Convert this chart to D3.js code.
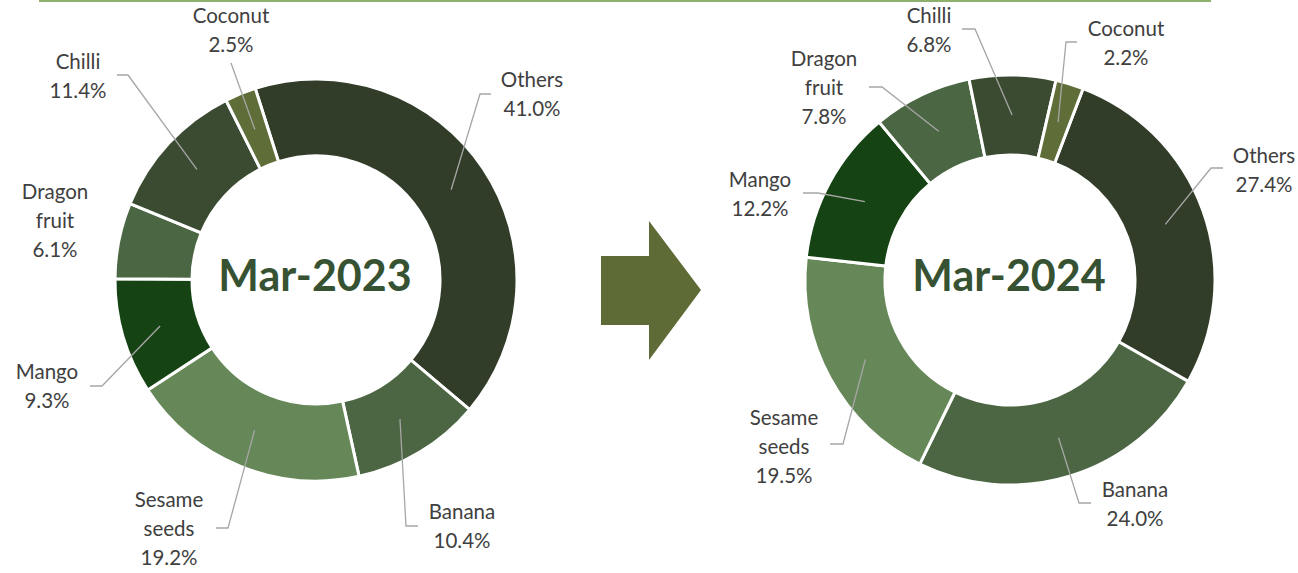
<!DOCTYPE html>
<html>
<head>
<meta charset="utf-8">
<script src="https://cdn.jsdelivr.net/npm/d3@7"></script>
<style>
    html, body { margin: 0; padding: 0; background: #fff; }
    svg { display: block; }
</style>
</head>
<body>
<div id="root"></div>
<script>
// Export share by crop, Mar-2023 vs Mar-2024 (%)
const categories = ['Others', 'Banana', 'Sesame seeds', 'Mango', 'Dragon fruit', 'Chilli', 'Coconut'];
const share2023 = [41.0, 10.4, 19.2, 9.3, 6.1, 11.4, 2.5];
const share2024 = [27.4, 24.0, 19.5, 12.2, 7.8, 6.8, 2.2];
const periods = ['Mar-2023', 'Mar-2024'];

const Width = 1298;
const Height = 573;
const LineHeight = 29;

const colors = {
    Others: '#323d29',
    Banana: '#4c6643',
    'Sesame seeds': '#668858',
    Mango: '#164313',
    'Dragon fruit': '#4b6642',
    Chilli: '#3b4b31',
    Coconut: '#5f6d38',
};

// label placement: text centre x, first baseline y, leader stub start x/y and stub length
const charts = [
    {
        title: periods[0],
        values: share2023,
        cx: 316, cy: 280, outer: 201, inner: 124, start: -17.6,
        labels: {
            Others: { x: 532, y: 87, sx: 491, sy: 94, len: -11 },
            Banana: { x: 462, y: 519, sx: 418, sy: 526, len: -12 },
            'Sesame seeds': { x: 169, y: 507, sx: 216, sy: 528, len: 12 },
            Mango: { x: 47, y: 379, sx: 90, sy: 386, len: 12 },
            'Dragon fruit': { x: 55, y: 199 },
            Chilli: { x: 78, y: 69, sx: 117, sy: 75, len: 11 },
            Coconut: { x: 231, y: 23, sx: 231, sy: 63, len: 0 },
        },
    },
    {
        title: periods[1],
        values: share2024,
        cx: 1010, cy: 280, outer: 205, inner: 125, start: 20.9,
        labels: {
            Others: { x: 1264, y: 163, sx: 1223, sy: 168, len: -12 },
            Banana: { x: 1135, y: 497, sx: 1091, sy: 503, len: -12 },
            'Sesame seeds': { x: 784, y: 425, sx: 830, sy: 444, len: 13 },
            Mango: { x: 760, y: 187, sx: 803, sy: 193, len: 15 },
            'Dragon fruit': { x: 824, y: 66, sx: 869, sy: 87, len: 13 },
            Chilli: { x: 929, y: 23, sx: 962, sy: 29, len: 13 },
            Coconut: { x: 1126, y: 36, sx: 1077, sy: 42, len: -11 },
        },
    },
];

const svg = d3.select('#root')
    .append('svg')
    .attr('width', Width)
    .attr('height', Height)
    .attr('viewBox', [0, 0, Width, Height]);

// thin green rule along the top
svg.append('line')
    .attr('x1', 39).attr('x2', 1211)
    .attr('y1', 1).attr('y2', 1)
    .attr('stroke', '#8db06b')
    .attr('stroke-width', 2);

function renderDonut(chart) {
    const rad = Math.PI / 180;
    const pie = d3.pie()
        .sort(null)
        .value(d => d.value)
        .startAngle(chart.start * rad)
        .endAngle(chart.start * rad + 2 * Math.PI);

    const arc = d3.arc()
        .innerRadius(chart.inner)
        .outerRadius(chart.outer);

    const arcs = pie(categories.map((name, i) => ({ name, value: chart.values[i] })));

    const g = svg.append('g')
        .attr('transform', `translate(${chart.cx}, ${chart.cy})`);

    g.append('g')
        .selectAll('path')
        .data(arcs)
        .join('path')
        .attr('d', arc)
        .attr('fill', d => colors[d.data.name])
        .attr('stroke', '#fff')
        .attr('stroke-width', 3)
        .attr('stroke-linejoin', 'miter');

    // leader lines, ending at the slice centroid
    const leaders = arcs.filter(d => chart.labels[d.data.name].sx !== undefined);
    svg.append('g')
        .attr('fill', 'none')
        .attr('stroke', '#a6a6a6')
        .attr('stroke-width', 1.3)
        .selectAll('polyline')
        .data(leaders)
        .join('polyline')
        .attr('points', d => {
            const l = chart.labels[d.data.name];
            const [px, py] = arc.centroid(d);
            return [[l.sx, l.sy], [l.sx + l.len, l.sy], [chart.cx + px, chart.cy + py]].join(' ');
        });

    // data labels
    const label = svg.append('g')
        .attr('font-family', 'Lato, sans-serif')
        .attr('font-size', 20.5)
        .attr('fill', '#404040')
        .attr('text-anchor', 'middle')
        .selectAll('text')
        .data(arcs)
        .join('text')
        .attr('x', d => chart.labels[d.data.name].x)
        .attr('y', d => chart.labels[d.data.name].y);

    label.each(function (d) {
        const words = d.data.name.split(' ');
        const lines = [...words, `${d.data.value.toFixed(1)}%`];
        const t = d3.select(this);
        lines.forEach((line, i) => {
            t.append('tspan')
                .attr('x', chart.labels[d.data.name].x)
                .attr('dy', i === 0 ? 0 : LineHeight)
                .text(line);
        });
    });

    // period in the hole
    svg.append('text')
        .attr('x', chart.cx - 1)
        .attr('y', chart.cy + 11)
        .attr('text-anchor', 'middle')
        .attr('font-family', 'Lato, sans-serif')
        .attr('font-weight', 'bold')
        .attr('font-size', 43)
        .attr('fill', '#375232')
        .text(chart.title);
}

charts.forEach(renderDonut);

// block arrow between the two donuts
const arrow = d3.path();
arrow.moveTo(601, 256);
arrow.lineTo(649, 256);
arrow.lineTo(649, 221);
arrow.lineTo(701, 290);
arrow.lineTo(649, 360);
arrow.lineTo(649, 325);
arrow.lineTo(601, 325);
arrow.closePath();
svg.append('path')
    .attr('d', arrow.toString())
    .attr('fill', '#5e6b37');
</script>
</body>
</html>
